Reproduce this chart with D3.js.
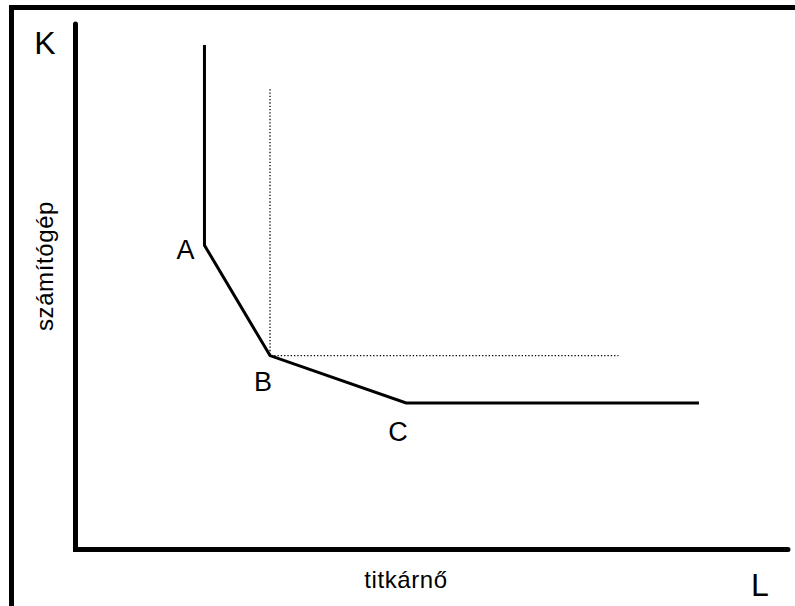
<!DOCTYPE html>
<html>
<head>
<meta charset="utf-8">
<script src="https://cdn.jsdelivr.net/npm/d3@7"></script>
<style>
  html, body { margin: 0; padding: 0; background: #fff; }
  svg { display: block; font-family: "Liberation Sans", Arial, Helvetica, sans-serif; }
</style>
</head>
<body>
<svg id="chart"></svg>
<script>
/* Isoquant with kinks A, B, C: titkárnő (L) vs számítógép (K). */
// Piecewise-linear isoquant (L, K)
const curveL = [18.1, 18.1, 27.3, 46.4, 87.5];
const curveK = [96.0, 57.9, 36.9, 27.9, 27.9];
// Kink labels
const kinkNames = ["A", "B", "C"];
const kinkIdx = [1, 2, 3];
// Dotted right-angle guides through B
const guideL = [27.3, 27.3, 76.2];
const guideK = [87.6, 36.9, 36.9];

(function () {
    const W = 795, H = 606;
    const svg = d3.select("#chart").attr("width", W).attr("height", H);

    const x = d3.scaleLinear().domain([0, 100]).range([75.5, 788]);
    const y = d3.scaleLinear().domain([0, 100]).range([549.5, 24]);

    // Outer frame (right and bottom edges fall outside the window)
    svg.append("path")
        .attr("d", `M11.5,${H + 5} L11.5,7.5 L${W + 5},7.5`)
        .attr("fill", "none").attr("stroke", "#000").attr("stroke-width", 5);

    // Axes
    svg.append("path")
        .attr("d", `M${x(0)},${y(100)} L${x(0)},${y(0)} L${x(100)},${y(0)}`)
        .attr("fill", "none").attr("stroke", "#000").attr("stroke-width", 5)
        .attr("stroke-linejoin", "miter").attr("stroke-linecap", "round");

    const line = d3.line().x(d => x(d[0])).y(d => y(d[1]));

    // Dotted guides
    svg.append("path")
        .attr("d", line(guideL.map((v, i) => [v, guideK[i]])))
        .attr("fill", "none").attr("stroke", "#000").attr("stroke-width", 1.3)
        .attr("stroke-dasharray", "1.3,2");

    // Isoquant
    svg.append("path")
        .attr("d", line(curveL.map((v, i) => [v, curveK[i]])))
        .attr("fill", "none").attr("stroke", "#000").attr("stroke-width", 3)
        .attr("stroke-linejoin", "miter");

    // Kink labels
    const offs = { A: [-19, 14], B: [-7, 35], C: [-8, 38] };
    kinkNames.forEach((n, i) => {
        const k = kinkIdx[i];
        svg.append("text")
            .attr("x", x(curveL[k]) + offs[n][0])
            .attr("y", y(curveK[k]) + offs[n][1])
            .attr("text-anchor", "middle")
            .attr("font-size", 27).attr("fill", "#000")
            .text(n);
    });

    // Axis letters
    svg.append("text").attr("x", 45).attr("y", 54).attr("text-anchor", "middle")
        .attr("font-size", 32).text("K");
    svg.append("text").attr("x", 760).attr("y", 596).attr("text-anchor", "middle")
        .attr("font-size", 32).text("L");

    // Axis titles
    svg.append("text").attr("x", 406).attr("y", 588).attr("text-anchor", "middle")
        .attr("font-size", 24).attr("letter-spacing", 0.6).text("titkárnő");
    svg.append("text")
        .attr("transform", "translate(53,266) rotate(-90)")
        .attr("text-anchor", "middle")
        .attr("font-size", 24).attr("letter-spacing", 0.6).text("számítógép");
})();
</script>
</body>
</html>
